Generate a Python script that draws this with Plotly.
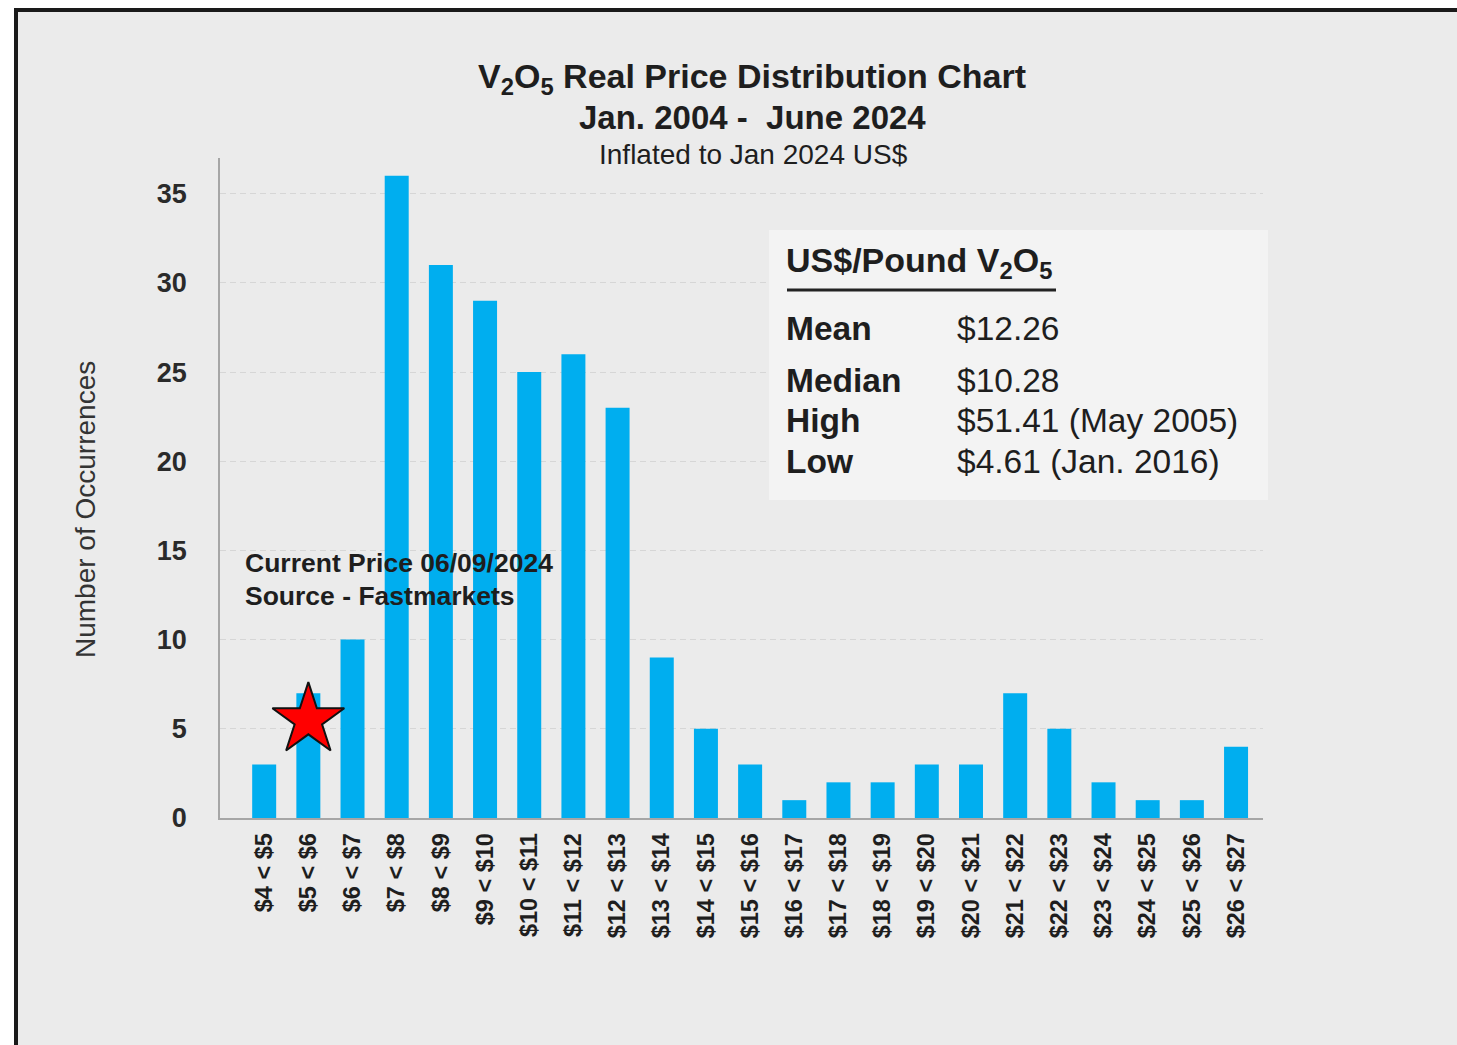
import plotly.graph_objects as go

# ---- data ----
categories = ["$4 < $5", "$5 < $6", "$6 < $7", "$7 < $8", "$8 < $9", "$9 < $10",
              "$10 < $11", "$11 < $12", "$12 < $13", "$13 < $14", "$14 < $15",
              "$15 < $16", "$16 < $17", "$17 < $18", "$18 < $19", "$19 < $20",
              "$20 < $21", "$21 < $22", "$22 < $23", "$23 < $24", "$24 < $25",
              "$25 < $26", "$26 < $27"]
occurrences = [3, 7, 10, 36, 31, 29, 25, 26, 23, 9, 5, 3, 1, 2, 2, 3, 3, 7, 5, 2, 1, 1, 4]

current_category = "$5 < $6"
current_marker_y = 5.5

y_ticks = [0, 5, 10, 15, 20, 25, 30, 35]

stats_labels = ["Mean", "Median", "High", "Low"]
stats_values = ["$12.26", "$10.28", "$51.41 (May 2005)", "$4.61 (Jan. 2016)"]

# ---- layout geometry (screen pixels; body margin removed) ----
W, H = 1457, 1045
PL, PR, PT, PB = 220, 1263, 158, 818


def px(x):
    return (x - PL) / (PR - PL)


def py(y):
    return (PB - y) / (PB - PT)


FONT = "Liberation Sans, Arial, sans-serif"
DARK = "#1e1e1e"
BAR = "#00AEEF"
BG = "#ebebeb"

fig = go.Figure()
fig.add_trace(go.Bar(x=categories, y=occurrences, marker=dict(color=BAR, line=dict(width=0)),
                     showlegend=False, hoverinfo="x+y"))
fig.add_trace(go.Scatter(x=[current_category], y=[current_marker_y], mode="markers",
                         marker=dict(symbol="star", size=54, color="#ff0000",
                                     line=dict(color="#111111", width=2)),
                         showlegend=False, hoverinfo="skip"))

annotations = []
# titles
annotations.append(dict(text="<b>V<sub>2</sub>O<sub>5</sub> Real Price Distribution Chart</b>",
                        x=px(752), y=py(78), font=dict(size=34, color=DARK, family=FONT)))
annotations.append(dict(text="<b>Jan. 2004 -  June 2024</b>",
                        x=px(752), y=py(117), font=dict(size=33, color=DARK, family=FONT)))
annotations.append(dict(text="Inflated to Jan 2024 US$",
                        x=px(753), y=py(155), font=dict(size=28, color=DARK, family=FONT)))
# y axis title
annotations.append(dict(text="Number of Occurrences", x=px(85), y=py(510), textangle=-90,
                        font=dict(size=28, color="#333333", family=FONT)))
# current price note
annotations.append(dict(text="<b>Current Price 06/09/2024</b>", x=px(243), y=py(563), xanchor="left",
                        font=dict(size=26.5, color=DARK, family=FONT)))
annotations.append(dict(text="<b>Source - Fastmarkets</b>", x=px(243), y=py(596), xanchor="left",
                        font=dict(size=26.5, color=DARK, family=FONT)))
# stats box
annotations.append(dict(text="<b>US$/Pound V<sub>2</sub>O<sub>5</sub></b>", x=px(784), y=py(262),
                        xanchor="left", font=dict(size=34, color=DARK, family=FONT)))
row_y = [328, 380, 420, 461]
for lab, val, yy in zip(stats_labels, stats_values, row_y):
    annotations.append(dict(text="<b>%s</b>" % lab, x=px(784), y=py(yy), xanchor="left",
                            font=dict(size=33.5, color=DARK, family=FONT)))
    annotations.append(dict(text=val, x=px(955), y=py(yy), xanchor="left",
                            font=dict(size=33.5, color=DARK, family=FONT)))

for a in annotations:
    a.update(xref="paper", yref="paper", showarrow=False)
    a.setdefault("xanchor", "center")
    a.setdefault("yanchor", "middle")

shapes = [
    # white outer strips
    dict(type="rect", x0=px(0), x1=px(W), y0=py(0), y1=py(8), fillcolor="white", line=dict(width=0)),
    dict(type="rect", x0=px(0), x1=px(14), y0=py(0), y1=py(H), fillcolor="white", line=dict(width=0)),
    # dark frame
    dict(type="rect", x0=px(14), x1=px(W), y0=py(8), y1=py(12), fillcolor="#1a1a1a", line=dict(width=0)),
    dict(type="rect", x0=px(14), x1=px(18), y0=py(8), y1=py(H), fillcolor="#1a1a1a", line=dict(width=0)),
    # stats box
    dict(type="rect", x0=px(769), x1=px(1268), y0=py(230), y1=py(500), fillcolor="#f3f3f3",
         line=dict(width=0)),
    dict(type="line", x0=px(787), x1=px(1056), y0=py(290), y1=py(290),
         line=dict(color="#222222", width=3)),
]
for s in shapes:
    s.update(xref="paper", yref="paper", layer="above")

fig.update_layout(
    width=W, height=H,
    margin=dict(l=PL, r=W - PR, t=PT, b=H - PB, autoexpand=False),
    paper_bgcolor=BG, plot_bgcolor=BG,
    bargap=0.457,
    annotations=annotations,
    shapes=shapes,
    font=dict(family=FONT, color=DARK),
)
fig.update_xaxes(
    type="category", range=[-1.0, 22.61], tickangle=-90,
    tickfont=dict(size=23.5, color=DARK, family=FONT),
    ticks="", ticklabelstandoff=4,
    showline=True, linecolor="#a6a6a6", linewidth=1.5, showgrid=False, zeroline=False,
    tickprefix="<b>", ticksuffix="</b>",
)
fig.update_yaxes(
    range=[0, 37], tickvals=y_ticks, ticktext=["<b>%d</b>" % v for v in y_ticks],
    tickfont=dict(size=27, color="#2a2a2a", family=FONT),
    ticks="", ticklabelstandoff=26,
    showline=True, linecolor="#a6a6a6", linewidth=1.5,
    showgrid=True, gridcolor="#d6d6d6", gridwidth=1, griddash="6px,4px", zeroline=False,
)

fig.write_html("out.html",
               config={"displayModeBar": False},
               post_script="document.body.style.margin='0';document.body.style.overflow='hidden';")
